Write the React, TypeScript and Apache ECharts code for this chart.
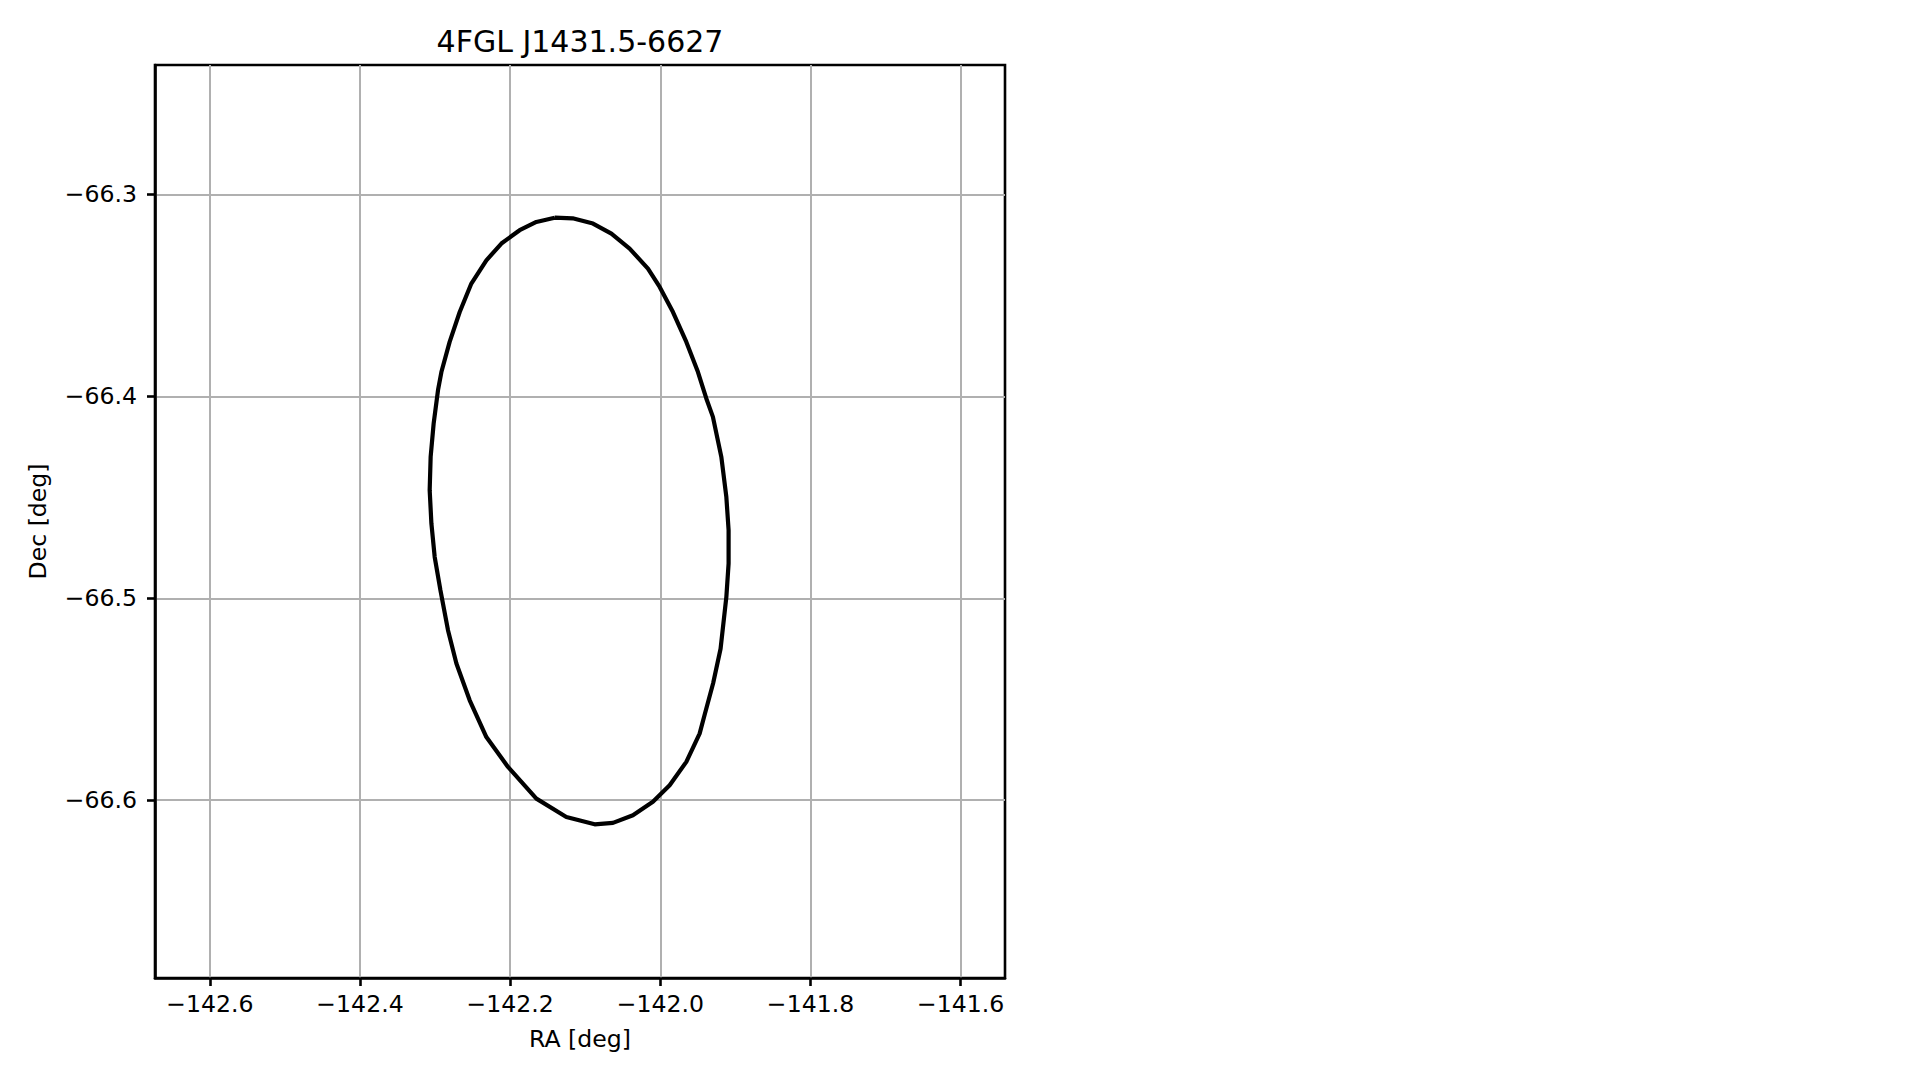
import React, { useEffect, useRef } from "react";
import * as echarts from "echarts";

const titleText = "4FGL J1431.5-6627";
const xName = "RA [deg]";
const yName = "Dec [deg]";

const xMin = -142.673;
const xMax = -141.541;
const yMin = -66.688;
const yMax = -66.236;

const xTicks = [-142.6, -142.4, -142.2, -142.0, -141.8, -141.6];
const yTicks = [-66.6, -66.5, -66.4, -66.3];

// Ellipse outline points
const raDeg = [
  -142.1407, -142.1168, -142.0897, -142.0652, -142.0409, -142.0165, -142.0009,
  -141.9832, -141.9654, -141.9499, -141.9388, -141.93, -141.9188, -141.9121,
  -141.9091, -141.9091, -141.9121, -141.9198, -141.9297, -141.9411, -141.9477,
  -141.9654, -141.9876, -142.0099, -142.0365, -142.0631, -142.0875, -142.1252,
  -142.1651, -142.2029, -142.2317, -142.2539, -142.2716, -142.2828, -142.2929,
  -142.3005, -142.3049, -142.3072, -142.3059, -142.3019, -142.2961, -142.2916,
  -142.2806, -142.2672, -142.2517, -142.2317, -142.2117, -142.1874, -142.1651,
  -142.1407,
];
const decDeg = [
  -66.3116, -66.3119, -66.3145, -66.3195, -66.3269, -66.3368, -66.3459,
  -66.3583, -66.3731, -66.388, -66.4011, -66.4102, -66.43, -66.4499,
  -66.4663, -66.4828, -66.4994, -66.525, -66.5421, -66.5578, -66.567,
  -66.581, -66.5926, -66.6008, -66.6074, -66.6112, -66.6119, -66.6083,
  -66.5992, -66.5835, -66.5687, -66.5505, -66.5323, -66.5158, -66.496,
  -66.4796, -66.463, -66.4465, -66.43, -66.4135, -66.397, -66.388,
  -66.3731, -66.3583, -66.3442, -66.3327, -66.3244, -66.3178, -66.3137,
  -66.3116,
];

const FONT = "DejaVu Sans";
const fmt = (v: number) => (v < 0 ? "\u2212" : "") + Math.abs(v).toFixed(1);

export default function App() {
  const ref = useRef<HTMLDivElement>(null);
  useEffect(() => {
    if (!ref.current) return;
    const chart = echarts.init(ref.current, undefined, { renderer: "svg" });
    const data = raDeg.map((r, i) => [r, decDeg[i]]);
    chart.setOption({
      animation: false,
      backgroundColor: "#ffffff",
      textStyle: { fontFamily: FONT },
      title: {
        text: titleText,
        left: 575,
        top: 21,
        textAlign: "center",
        textStyle: { fontFamily: FONT, fontSize: 30, fontWeight: "normal", color: "#000" },
      },
      grid: {
        left: 155,
        top: 65,
        width: 850,
        height: 913,
        show: true,
        borderColor: "#000",
        borderWidth: 2.6,
        backgroundColor: "transparent",
      },
      xAxis: {
        type: "value",
        min: xMin,
        max: xMax,
        splitNumber: 5,
        name: xName,
        nameLocation: "middle",
        nameGap: 49,
        nameTextStyle: { fontFamily: FONT, fontSize: 23.6, color: "#000" },
        axisLine: { show: true, onZero: false, lineStyle: { color: "#000", width: 2.6 } },
        axisTick: {
          show: true,
          length: 8,
          inside: false,
          customValues: xTicks,
          lineStyle: { color: "#000", width: 2.6 },
        },
        axisLabel: {
          show: true,
          margin: 14,
          customValues: xTicks,
          formatter: fmt,
          fontFamily: FONT,
          fontSize: 23.6,
          color: "#000",
        },
        splitLine: {
          show: true,
          lineStyle: { color: "#b0b0b0", width: 2 },
        },
      },
      yAxis: {
        type: "value",
        min: yMin,
        max: yMax,
        splitNumber: 5,
        name: yName,
        nameLocation: "middle",
        nameGap: 105,
        nameRotate: 90,
        nameTextStyle: { fontFamily: FONT, fontSize: 23.6, color: "#000" },
        axisLine: { show: true, onZero: false, lineStyle: { color: "#000", width: 2.6 } },
        axisTick: {
          show: true,
          length: 8,
          inside: false,
          customValues: yTicks,
          lineStyle: { color: "#000", width: 2.6 },
        },
        axisLabel: {
          show: true,
          margin: 18,
          customValues: yTicks,
          formatter: fmt,
          fontFamily: FONT,
          fontSize: 23.6,
          color: "#000",
        },
        splitLine: {
          show: true,
          lineStyle: { color: "#b0b0b0", width: 2 },
        },
      },
      series: [
        {
          type: "line",
          data,
          showSymbol: false,
          symbol: "none",
          smooth: false,
          lineStyle: { color: "#000", width: 4.2 },
          z: 5,
        },
      ],
    });
    return () => chart.dispose();
  }, []);
  return (
    <div
      ref={ref}
      style={{ position: "absolute", left: 0, top: 0, width: 1919, height: 1080 }}
    />
  );
}
